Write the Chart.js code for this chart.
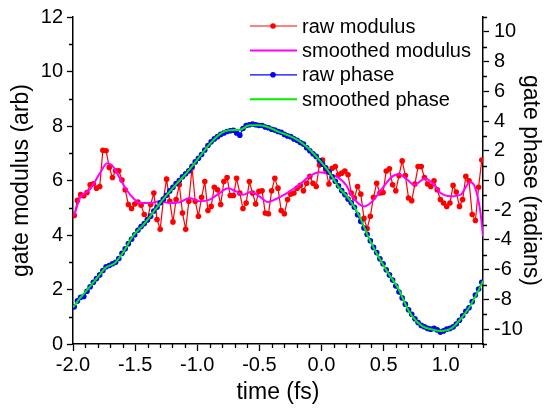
<!DOCTYPE html>
<html>
<head>
<meta charset="utf-8">
<script src="https://cdn.jsdelivr.net/npm/chart.js@4.4.1/dist/chart.umd.min.js"></script>
<style>
  html, body { margin: 0; padding: 0; background: #fff; }
  canvas { display: block; }
</style>
</head>
<body>
<canvas id="chart" width="544" height="411"></canvas>
<script>
// raw samples: uniform time grid
const tStart = -1.99;
const tStep = 0.025625;

const rawModulus = [
  4.72, 5.27, 5.48, 5.44, 5.56, 5.84, 5.88, 5.72, 5.78, 7.11, 7.09, 6.48, 6.11, 6.36, 6.36, 6.02, 5.66, 5.12, 4.97, 5.14, 5.21, 5.09,
  4.75, 4.57, 5.12, 5.54, 4.57, 4.21, 5.30, 6.05, 5.24, 4.48, 5.30, 5.84, 4.81, 4.21, 5.24, 6.47, 5.24, 4.69, 5.38, 5.96, 4.90, 5.05, 5.75,
  5.66, 5.12, 5.96, 6.11, 5.45, 5.45, 6.08, 5.54, 4.97, 5.17, 5.96, 5.54, 5.14, 5.60, 5.62, 4.81, 4.78, 5.62, 6.08, 5.72, 4.90, 4.78,
  5.30, 5.50, 5.54, 5.72, 5.82, 5.62, 5.90, 6.15, 5.90, 5.78, 6.57, 6.75, 6.39, 5.87, 6.45, 6.51, 6.21, 6.27, 6.35, 6.21,
  5.54, 5.36, 5.78, 5.50, 4.61, 4.24, 4.69, 5.38, 5.90, 5.54, 5.56, 6.35, 6.43, 5.84, 5.62, 6.18, 6.72, 6.18, 5.36, 5.26,
  5.87, 6.51, 6.51, 6.11, 5.87, 5.78, 5.99, 5.66, 5.30, 5.17, 5.05, 5.17, 5.82, 5.58, 5.05, 5.30, 6.15, 5.99, 4.75, 4.53, 5.75, 6.75
];

const rawPhase = [
  -8.5, -8.1, -7.85, -7.8, -7.45, -7.15, -6.85, -6.6, -6.35, -6.05, -5.8, -5.72,
  -5.6, -5.5, -5.25, -4.9, -4.6, -4.25, -3.95, -3.65, -3.35, -3.1, -2.9, -2.65,
  -2.4, -2.05, -1.8, -1.5, -1.25, -1.0, -0.7, -0.45, -0.2, 0.0, 0.25, 0.45,
  0.65, 0.95, 1.25, 1.5, 1.75, 2.05, 2.35, 2.6, 2.8, 2.95, 3.1, 3.2,
  3.3, 3.35, 3.38, 3.2, 3.05, 3.5, 3.7, 3.75, 3.8, 3.75, 3.7, 3.7,
  3.6, 3.55, 3.45, 3.4, 3.3, 3.25, 3.1, 3.0, 2.95, 2.8, 2.7, 2.55,
  2.45, 2.2, 2.0, 1.8, 1.62, 1.35, 1.1, 0.85, 0.58, 0.25, -0.05, -0.35,
  -0.68, -0.95, -1.25, -1.5, -1.8, -2.3, -2.75, -3.2, -3.62, -4.05, -4.5, -4.85,
  -5.27, -5.6, -6.0, -6.35, -6.7, -7.1, -7.5, -7.9, -8.32, -8.7, -9.0, -9.3,
  -9.55, -9.75, -9.85, -9.95, -10.0, -9.95, -10.05, -10.2, -10.12, -10.0, -9.95, -9.85,
  -9.65, -9.4, -9.1, -8.8, -8.56, -8.15, -7.7, -7.3, -6.85
];

const smoothModT = [
  -1.99, -1.944, -1.864, -1.783, -1.725, -1.677, -1.623, -1.569, -1.516, -1.462,
  -1.382, -1.302, -1.222, -1.141, -1.061, -0.981, -0.900, -0.820, -0.754, -0.686,
  -0.633, -0.566, -0.499, -0.433, -0.365, -0.299, -0.258, -0.178, -0.098, -0.018,
  0.063, 0.143, 0.197, 0.250, 0.343, 0.410, 0.490, 0.571, 0.624, 0.691,
  0.745, 0.835, 0.905, 0.959, 1.039, 1.120, 1.195, 1.227, 1.259, 1.280, 1.300
];
const smoothModV = [
  4.72, 5.36, 5.67, 6.27, 6.63, 6.51, 6.08, 5.66, 5.36, 5.17,
  5.17, 5.24, 5.17, 5.20, 5.36, 5.24, 5.30, 5.54, 5.72, 5.60,
  5.48, 5.58, 5.42, 5.21, 5.32, 5.48, 5.60, 5.84, 6.15, 6.30,
  6.23, 6.08, 5.84, 5.40, 5.05, 5.24, 5.72, 6.15, 6.23, 6.03,
  5.84, 6.07, 5.84, 5.54, 5.42, 5.48, 5.94, 5.84, 5.36, 4.81, 3.95
];

const smoothPhaseT = [
  -2.000, -1.944, -1.864, -1.783, -1.743, -1.663, -1.596, -1.516, -1.436, -1.382,
  -1.302, -1.222, -1.141, -1.061, -0.981, -0.900, -0.820, -0.740, -0.659, -0.579,
  -0.499, -0.418, -0.338, -0.258, -0.178, -0.098, -0.018, 0.063, 0.143, 0.223,
  0.304, 0.384, 0.464, 0.531, 0.624, 0.677, 0.731, 0.811, 0.891, 0.972,
  1.052, 1.105, 1.186, 1.266, 1.300
];
const smoothPhaseV = [
  -8.54, -7.92, -7.14, -6.32, -5.90, -5.55, -4.82, -3.71, -3.00, -2.45,
  -1.55, -0.75, 0.00, 0.75, 1.60, 2.45, 3.10, 3.38, 3.40, 3.71,
  3.71, 3.55, 3.25, 3.00, 2.65, 2.10, 1.38, 0.55, -0.50, -1.25,
  -2.38, -3.93, -5.20, -6.15, -7.36, -8.36, -9.14, -9.80, -10.02, -10.13,
  -9.91, -9.47, -8.58, -7.36, -6.75
];

const timeTicks = [-2.0, -1.5, -1.0, -0.5, 0.0, 0.5, 1.0];
const modTicks = [0, 2, 4, 6, 8, 10, 12];
const phaseTicks = [-10, -8, -6, -4, -2, 0, 2, 4, 6, 8, 10];

const rawTime = rawModulus.map((_, i) => tStart + i * tStep);
const pairs = (xs, ys) => xs.map((x, i) => ({ x: x, y: ys[i] }));

Chart.defaults.font.family = '"Liberation Sans", Arial, sans-serif';
Chart.defaults.color = '#000';

// minor ticks (Chart.js has none) + the legend with line/marker samples
const extras = {
  id: 'extras',
  afterDraw(chart) {
    const ctx = chart.ctx;
    const { x, yMod, yPhase } = chart.scales;
    const area = chart.chartArea;
    ctx.save();
    ctx.strokeStyle = '#000';
    ctx.lineWidth = 1.3;
    ctx.beginPath();
    for (let k = -20; k <= 13; k++) {
      if (k % 5 === 0) continue;
      const px = Math.round(x.getPixelForValue(k / 10)) + 0.5;
      ctx.moveTo(px, area.bottom);
      ctx.lineTo(px, area.bottom + 4);
    }
    for (let k = 1; k <= 11; k += 2) {
      const py = Math.round(yMod.getPixelForValue(k)) + 0.5;
      ctx.moveTo(area.left, py);
      ctx.lineTo(area.left - 4, py);
    }
    for (let k = -11; k <= 11; k += 2) {
      const py = Math.round(yPhase.getPixelForValue(k)) + 0.5;
      ctx.moveTo(area.right, py);
      ctx.lineTo(area.right + 4, py);
    }
    ctx.stroke();

    ctx.font = '20px "Liberation Sans", Arial, sans-serif';
    ctx.textBaseline = 'middle';
    ctx.textAlign = 'left';
    chart.data.datasets.forEach((ds, i) => {
      const y = 26 + i * 24.4;
      ctx.strokeStyle = ds.borderColor;
      ctx.lineWidth = ds.borderWidth;
      ctx.beginPath();
      ctx.moveTo(250, y);
      ctx.lineTo(297, y);
      ctx.stroke();
      if (ds.pointRadius > 0) {
        ctx.fillStyle = ds.pointBackgroundColor;
        ctx.beginPath();
        ctx.arc(273, y, ds.pointRadius, 0, Math.PI * 2);
        ctx.fill();
      }
      ctx.fillStyle = '#000';
      ctx.fillText(ds.label, 302, y + 1);
    });
    ctx.restore();
  }
};

const axisLine = { display: true, color: '#000', width: 1.5 };
const tickGrid = { drawOnChartArea: false, drawTicks: true, color: '#000', tickWidth: 1.3 };

new Chart(document.getElementById('chart'), {
  type: 'line',
  data: {
    datasets: [
      {
        label: 'raw modulus', data: pairs(rawTime, rawModulus), yAxisID: 'yMod',
        borderColor: '#ff0000', borderWidth: 1.2, pointRadius: 2.8, pointBorderWidth: 0,
        pointBackgroundColor: '#ff0000', tension: 0, order: 4
      },
      {
        label: 'smoothed modulus', data: pairs(smoothModT, smoothModV), yAxisID: 'yMod',
        borderColor: '#ff00ff', borderWidth: 2, pointRadius: 0,
        cubicInterpolationMode: 'monotone', order: 3
      },
      {
        label: 'raw phase', data: pairs(rawTime, rawPhase), yAxisID: 'yPhase',
        borderColor: '#0000ff', borderWidth: 1.2, pointRadius: 2.8, pointBorderWidth: 0,
        pointBackgroundColor: '#0000ff', tension: 0, order: 2
      },
      {
        label: 'smoothed phase', data: pairs(smoothPhaseT, smoothPhaseV), yAxisID: 'yPhase',
        borderColor: '#00ee00', borderWidth: 2, pointRadius: 0,
        cubicInterpolationMode: 'monotone', order: 1
      }
    ]
  },
  options: {
    responsive: false,
    animation: false,
    devicePixelRatio: 1,
    layout: { padding: { top: 13, left: 0, right: 0, bottom: 0 } },
    plugins: { legend: { display: false }, tooltip: { enabled: false } },
    scales: {
      x: {
        type: 'linear', min: -2, max: 1.3,
        afterBuildTicks: (s) => { s.ticks = timeTicks.map(v => ({ value: v })); },
        afterFit: (s) => { s.height = 67; },
        ticks: { callback: v => v.toFixed(1), font: { size: 20 }, padding: 2, maxRotation: 0, autoSkip: false },
        grid: { ...tickGrid, tickLength: 7 },
        border: axisLine,
        title: { display: true, text: 'time (fs)', font: { size: 23 }, padding: { top: 0, bottom: 5 } }
      },
      yMod: {
        type: 'linear', position: 'left', min: 0, max: 12,
        afterBuildTicks: (s) => { s.ticks = modTicks.map(v => ({ value: v })); },
        afterFit: (s) => { s.width = 73; },
        ticks: { callback: v => String(v), font: { size: 20 }, padding: 4, autoSkip: false },
        grid: { ...tickGrid, tickLength: 6 },
        border: axisLine,
        title: { display: true, text: 'gate modulus (arb)', font: { size: 23 }, padding: { top: 8, bottom: 0 } }
      },
      yPhase: {
        type: 'linear', position: 'right', min: -11, max: 11,
        afterBuildTicks: (s) => { s.ticks = phaseTicks.map(v => ({ value: v })); },
        afterFit: (s) => { s.width = 61; },
        ticks: { callback: v => String(v), font: { size: 20 }, padding: 5, autoSkip: false },
        grid: { ...tickGrid, tickLength: 6 },
        border: axisLine,
        title: { display: true, text: 'gate phase (radians)', font: { size: 23 }, padding: { top: 0, bottom: 0 } }
      }
    }
  },
  plugins: [extras]
});
</script>
</body>
</html>
